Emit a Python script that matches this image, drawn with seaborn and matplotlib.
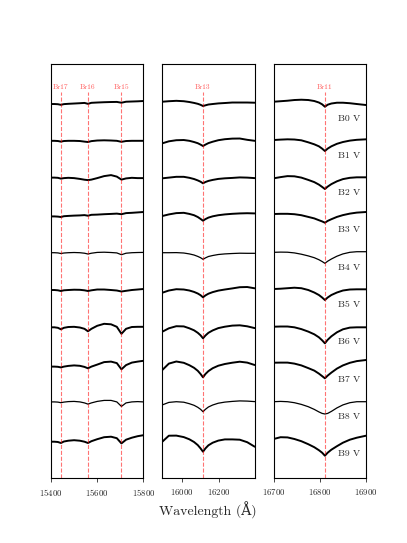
import numpy as np
import pandas as pd
import matplotlib
matplotlib.use("Agg")
import matplotlib.pyplot as plt
import seaborn as sns

sns.set_style("ticks")
plt.rcParams['font.family'] = 'serif'
plt.rcParams['font.serif'] = ['cmr10', 'DejaVu Serif']
plt.rcParams['mathtext.fontset'] = 'cm'
plt.rcParams['axes.formatter.use_mathtext'] = True

# spektral types (top to bottom)
stars = ['B0 V', 'B1 V', 'B2 V', 'B3 V', 'B4 V', 'B5 V', 'B6 V', 'B7 V', 'B8 V', 'B9 V']

# Brackett lines (A)
lines_1 = {'Br17': 15443, 'Br16': 15560, 'Br15': 15705}
lines_2 = {'Br13': 16113}
lines_3 = {'Br11': 16811}

# wavelength grids of the three windows
wave_1 = [15400, 15415, 15430, 15443, 15456, 15475, 15500, 15525, 15545, 15560,
          15575, 15600, 15630, 15660, 15685, 15705, 15725, 15750, 15775, 15800]
wave_2 = [15895, 15930, 15970, 16010, 16040, 16065, 16085, 16100, 16113, 16126,
          16142, 16165, 16195, 16230, 16270, 16310, 16350, 16390]
wave_3 = [16700, 16715, 16730, 16745, 16760, 16775, 16788, 16798, 16805, 16811,
          16817, 16825, 16837, 16850, 16865, 16880, 16900]

# depth below continuum in percent
depth_1 = [
    [0.5, 0.5, 0.7, 1.3, 0.6, 0.3, 0, -0.3, -0.6, 0.3, -0.7, -1.0, -1.3, -1.5, -1.6, -0.8, -1.8, -2.0, -2.2, -2.5],
    [0, 0, 0.2, 0.8, 0.2, 0, 0, 0.2, 0.8, 1.2, 0.3, -0.3, -0.5, -0.3, 0, 1.0, 0.2, 0, 0, 0],
    [-0.5, -0.5, -0.3, 0.5, 0, -0.3, 0, 0.8, 1.6, 2.0, 1.5, 0, -2.0, -3.0, -1.5, 1.5, 0.3, -0.3, 0, 0],
    [1.0, 1.0, 1.2, 1.6, 0.8, 0.5, 0.2, 0, -0.3, 0.3, -0.6, -0.8, -1.2, -1.5, -1.8, -1.2, -2.3, -2.6, -3.0, -3.4],
    [0, 0, 0.2, 0.8, 0.3, 0, -0.2, 0, 0.5, 1.3, 0.5, -0.3, -0.5, -0.2, 0.2, 2.0, 0.5, 0, -0.2, -0.3],
    [0, 0, 0.3, 1.0, 0.3, 0, -0.3, -0.2, 0.3, 1.0, 0.3, -0.5, -0.5, 0, 0.5, 1.5, 0.8, 0, -0.5, -1.0],
    [0, 0, 0.5, 2.0, 0.5, -0.3, -0.5, 0.2, 1.5, 4.0, 1.5, -1.5, -3.5, -3.0, -0.5, 6.5, 1.5, -0.3, -0.5, -0.5],
    [2.0, 2.0, 2.2, 2.8, 2.0, 1.3, 0.8, 1.2, 2.3, 3.7, 2.0, 0, -2.5, -3.0, -1.5, 4.7, 0.5, -2.0, -3.0, -3.8],
    [0, 0, 0.2, 0.8, 0.2, -0.3, -0.5, 0, 1.0, 2.2, 1.0, -0.5, -1.5, -1.5, 0, 4.5, 1.0, 0, -0.3, 0],
    [2.5, 2.5, 2.8, 3.8, 2.3, 1.5, 1.0, 1.5, 2.5, 3.8, 2.0, 0, -2.0, -2.5, -1.0, 4.2, 0.5, -1.5, -3.0, -4.0],
]
depth_2 = [
    [-1.8, -2.3, -2.7, -2.3, -1.5, -0.6, 0.3, 1.3, 2.5, 1.8, 1.0, 0.5, -0.1, -0.5, -1.0, -1.0, -1.0, -0.8],
    [2.5, 0.5, -0.6, -0.8, 0.0, 1.2, 2.4, 3.8, 5.2, 3.8, 2.3, 0.9, -0.6, -1.6, -2.2, -2.3, -1.0, 0],
    [0.2, -0.5, -1.3, -1.3, -0.3, 0.9, 2.3, 3.6, 5.2, 3.9, 2.8, 1.8, 0.8, 0.2, -0.2, -0.7, -0.5, 0],
    [0.6, -1.0, -2.3, -2.6, -1.5, -0.2, 1.6, 3.5, 5.3, 3.7, 2.2, 0.9, -0.2, -1.0, -1.6, -2.0, -2.2, -2.0],
    [0, 0, -0.1, 0.3, 1.2, 2.3, 3.7, 5.0, 6.6, 5.2, 3.8, 2.8, 1.8, 1.2, 0.8, 0.5, 0.6, 0.6],
    [2.7, 0.5, -0.8, -0.5, 0.5, 1.9, 3.5, 5.2, 7.3, 5.4, 3.7, 2.1, 0.6, -0.5, -1.6, -2.8, -3.0, -1.7],
    [4.4, 1.0, -1.1, -0.9, 1.0, 3.0, 5.5, 8.0, 11.0, 8.2, 5.5, 3.1, 0.8, -0.6, -1.7, -2.0, -1.0, 0.8],
    [5.4, -1.0, -3.1, -1.8, 0.6, 3.2, 6.2, 9.4, 12.7, 9.4, 6.5, 3.6, 1.1, -0.6, -1.9, -2.9, -2.0, 0.4],
    [3.0, 0.5, -0.2, 0.3, 1.8, 3.4, 5.4, 7.4, 9.8, 7.4, 5.1, 3.1, 1.3, 0.2, -0.5, -1.0, -0.8, -0.3],
    [2.5, -3.5, -3.6, -2.1, 0.1, 2.8, 5.9, 9.2, 12.5, 9.2, 6.1, 3.5, 1.4, 0.2, 0.2, 0.5, 3.0, 7.5],
]
depth_3 = [
    [-1.8, -2.3, -2.8, -3.5, -3.8, -3.5, -2.5, -1.0, 0.8, 3.2, 1.2, 0, -0.8, -0.8, -0.3, 0.5, 1.5],
    [-0.8, -1.2, -1.5, -1.3, -0.5, 1.5, 3.5, 5.5, 7.8, 10.2, 7.8, 5.5, 3.0, 1.2, -0.2, -1.0, -1.5],
    [0.2, -1.0, -2.0, -1.8, -0.5, 1.8, 4.0, 6.5, 8.8, 10.9, 8.5, 6.0, 3.2, 1.0, -0.3, -0.8, -0.8],
    [-1.4, -1.6, -1.6, -1.2, -0.2, 1.5, 3.0, 4.8, 6.0, 7.3, 5.5, 3.8, 1.5, -0.3, -1.8, -2.8, -3.4],
    [-0.4, -0.6, -0.5, 0.2, 1.5, 3.2, 5.0, 7.0, 8.8, 10.6, 8.5, 6.3, 3.5, 1.2, -0.4, -1.0, -1.0],
    [-1.0, -1.3, -1.8, -2.3, -1.8, 0, 2.5, 5.0, 7.5, 10.0, 7.5, 5.0, 2.5, 0.5, -0.5, -0.7, -0.7],
    [-0.6, -0.8, -0.8, 0, 1.8, 4.3, 7.0, 10.0, 13.0, 16.0, 12.5, 9.0, 5.0, 2.0, 0.3, 0, 0],
    [-1.9, -2.0, -2.0, -1.0, 0.8, 3.5, 6.0, 9.0, 11.5, 13.7, 11.0, 8.0, 4.0, 0.8, -1.8, -3.5, -4.6],
    [-0.2, -0.5, -0.2, 0.8, 2.5, 4.8, 7.5, 10.0, 11.5, 12.1, 11.5, 9.5, 6.0, 3.0, 0.8, -0.2, -0.2],
    [-0.2, -2.0, -1.8, -0.2, 2.0, 5.0, 8.0, 11.0, 13.5, 16.5, 13.5, 10.5, 7.0, 3.5, 0.5, -1.5, -3.5],
]

offset = 0.373
thin = ['B4 V', 'B8 V']

panels = [
    (wave_1, depth_1, lines_1, (15400, 15800), [15400, 15600, 15800]),
    (wave_2, depth_2, lines_2, (15895, 16390), [16000, 16200]),
    (wave_3, depth_3, lines_3, (16700, 16900), [16700, 16800, 16900]),
]

fig, axes = plt.subplots(1, 3, figsize=(4.07, 5.43), dpi=100)
plt.subplots_adjust(left=0.1253, right=0.8993, bottom=0.1197, top=0.8821, wspace=0.205)

for ax, (wave, depth, lines, xlim, ticks) in zip(axes, panels):
    rows = []
    for i, star in enumerate(stars):
        for w, d in zip(wave, depth[i]):
            rows.append({'star': star, 'wave': w, 'flux': 1 - d / 100 - offset * i})
    df = pd.DataFrame(rows)
    for star in stars:
        sub = df[df['star'] == star]
        sns.lineplot(data=sub, x='wave', y='flux', ax=ax, color='k',
                     lw=0.9 if star in thin else 1.4, estimator=None)
    for name, lam in lines.items():
        ax.axvline(lam, ymax=0.932, color='red', alpha=0.55, ls='--', lw=0.8)
        ax.text(lam, 1.16, name, color='#ff6060', fontsize=5.4, ha='center', va='center')
    ax.set_xlim(*xlim)
    ax.set_ylim(-2.745, 1.395)
    ax.set_xticks(ticks)
    ax.set_yticks([])
    ax.set_xlabel('')
    ax.set_ylabel('')
    ax.tick_params(axis='x', labelsize=6.3, length=3, width=0.6)
    for sp in ax.spines.values():
        sp.set_linewidth(0.8)
        sp.set_color('k')

for i, star in enumerate(stars):
    axes[2].text(16840, 1 - offset * i - 0.148, star, fontsize=7, ha='left', va='center')

fig.text(0.511, 0.061, 'Wavelength (Å)', fontsize=10, ha='center', va='center',
         family=['cmr10', 'DejaVu Serif'])

plt.savefig('out.png', dpi=100)
